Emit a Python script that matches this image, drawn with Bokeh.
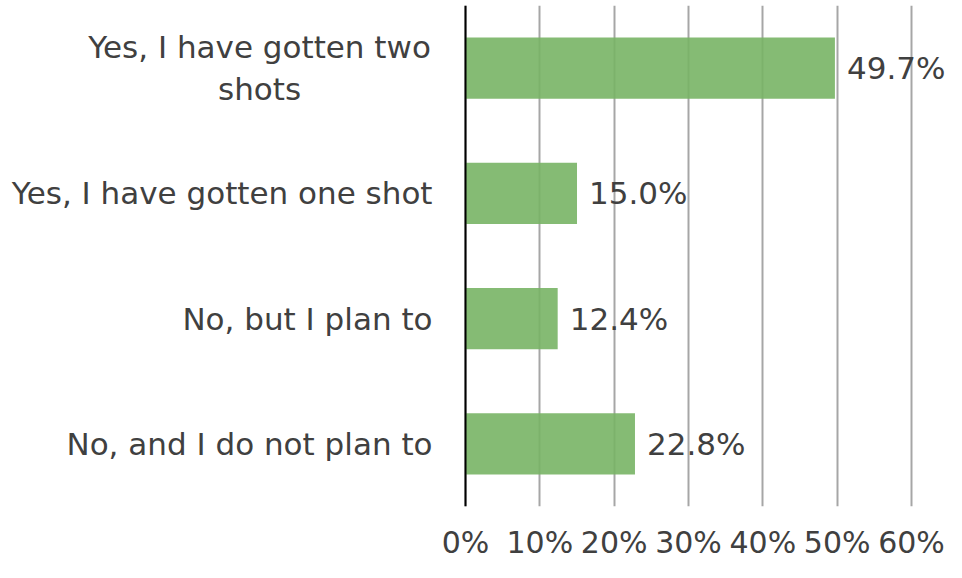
from bokeh.plotting import figure
from bokeh.models import FixedTicker, ColumnDataSource, Range1d, FactorRange, Span
from bokeh.core.properties import value
from bokeh.embed import file_html
from bokeh.resources import INLINE

categories = ["Yes, I have gotten two shots", "Yes, I have gotten one shot",
              "No, but I plan to", "No, and I do not plan to"]
values = [0.497, 0.150, 0.124, 0.228]
value_labels = ["49.7%", "15.0%", "12.4%", "22.8%"]
tick_values = [0, 0.1, 0.2, 0.3, 0.4, 0.5, 0.6]
tick_labels = ["0%", "10%", "20%", "30%", "40%", "50%", "60%"]
first_label_lines = ["Yes, I have gotten two", "shots"]

FONT = "DejaVu Sans"
TXT = "#404040"

y_factors = list(reversed(categories))
src = ColumnDataSource(dict(cat=categories, val=values, lab=value_labels))

p = figure(width=946, height=562, output_backend="svg", toolbar_location=None,
           y_range=FactorRange(factors=y_factors, range_padding=0),
           x_range=Range1d(-0.6256, 0.6471),
           min_border_left=0, min_border_right=0, min_border_top=5, min_border_bottom=54)
p.outline_line_color = None

p.hbar(y="cat", right="val", left=0, height=0.49, source=src,
       fill_color="#78B465", fill_alpha=0.9, line_color=None)
p.text(x="val", y="cat", text="lab", source=src, x_offset=12,
       text_align="left", text_baseline="middle",
       text_font=value(FONT), text_font_size="31px", text_color=TXT)

# category labels (left of the value axis)
cat_src = ColumnDataSource(dict(x=[0, 0, 0], y=categories[1:], text=categories[1:]))
p.text(x="x", y="y", text="text", source=cat_src, x_offset=-33,
       text_align="right", text_baseline="middle",
       text_font=value(FONT), text_font_size="31px", text_color=TXT)
first_src = ColumnDataSource(dict(x=[0, 0], y=[categories[0]] * 2,
                                  text=first_label_lines, dy=[-21, 21]))
p.text(x="x", y="y", text="text", source=first_src, x_offset=-206, y_offset="dy",
       text_align="center", text_baseline="middle",
       text_font=value(FONT), text_font_size="31px", text_color=TXT)

p.add_layout(Span(location=0, dimension="height", line_color="black", line_width=2))

p.xaxis.ticker = FixedTicker(ticks=tick_values)
p.xaxis.major_label_overrides = {v: l for v, l in zip(tick_values, tick_labels)}
p.xaxis.axis_line_color = None
p.xaxis.major_tick_line_color = None
p.xaxis.minor_tick_line_color = None
p.xaxis.major_tick_out = 0
p.xaxis.major_label_standoff = 18
p.xaxis.major_label_text_font = FONT
p.xaxis.major_label_text_font_size = "30px"
p.xaxis.major_label_text_color = TXT

p.yaxis.visible = False

p.xgrid.ticker = FixedTicker(ticks=tick_values)
p.xgrid.grid_line_color = "#A6A6A6"
p.xgrid.grid_line_width = 2
p.ygrid.grid_line_color = None

open("out.html", "w").write(file_html(p, INLINE))
